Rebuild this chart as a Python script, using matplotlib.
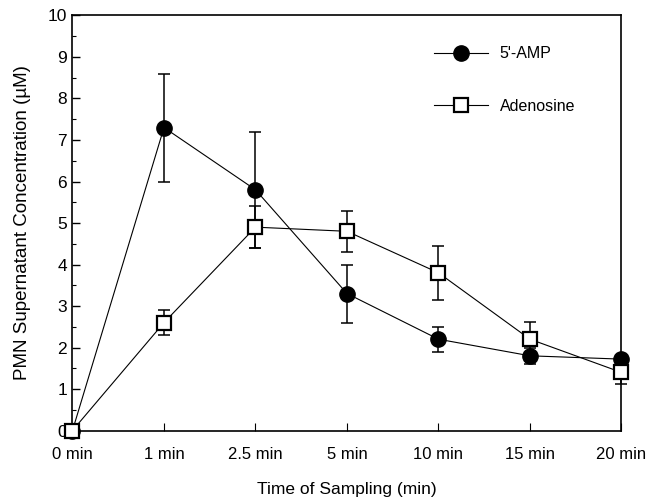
import matplotlib
matplotlib.use("Agg")
import matplotlib.pyplot as plt
from matplotlib.ticker import MultipleLocator

plt.rcParams['font.family'] = ['Liberation Sans', 'DejaVu Sans']

categories = ["0 min", "1 min", "2.5 min", "5 min", "10 min", "15 min", "20 min"]
amp = [0.0, 7.3, 5.8, 3.3, 2.2, 1.8, 1.72]
amp_err = [0.0, 1.3, 1.4, 0.7, 0.3, 0.2, 0.0]
ado = [0.0, 2.6, 4.9, 4.8, 3.8, 2.2, 1.4]
ado_err = [0.0, 0.3, 0.5, 0.5, 0.65, 0.42, 0.28]

x = list(range(len(categories)))

fig = plt.figure(figsize=(6.49, 5.03), dpi=100)
ax = fig.add_axes([0.1117, 0.1441, 0.8459, 0.8251])

ax.errorbar(x, amp, yerr=amp_err, fmt='none', ecolor='black', elinewidth=1.1,
            capsize=4, capthick=1.1, zorder=2, clip_on=False)
ax.errorbar(x, ado, yerr=ado_err, fmt='none', ecolor='black', elinewidth=1.1,
            capsize=4, capthick=1.1, zorder=2, clip_on=False)
ax.plot(x, amp, '-', color='black', lw=0.8, marker='o', markersize=11,
        markerfacecolor='black', markeredgecolor='black', label="5'-AMP",
        zorder=3, clip_on=False)
ax.plot(x, ado, '-', color='black', lw=0.8, marker='s', markersize=10,
        markerfacecolor='white', markeredgecolor='black', markeredgewidth=1.6,
        label='Adenosine', zorder=4, clip_on=False)

ax.set_xlim(0, 6)
ax.set_ylim(0, 10)
ax.set_xticks(x)
ax.set_xticklabels(categories, fontsize=12)
ax.yaxis.set_major_locator(MultipleLocator(1))
ax.yaxis.set_minor_locator(MultipleLocator(0.5))
ax.tick_params(axis='y', which='major', direction='in', length=6, width=1, labelsize=12.5, pad=4)
ax.tick_params(axis='y', which='minor', direction='in', length=3, width=0.8)
ax.tick_params(axis='x', which='major', direction='in', length=6, width=0.8, labelsize=12, pad=12)
for s in ax.spines.values():
    s.set_linewidth(1.2)

ax.set_xlabel('Time of Sampling (min)', fontsize=12.5, labelpad=14)
ax.set_ylabel('PMN Supernatant Concentration (\u00b5M)', fontsize=13.5, labelpad=12)

ax.legend(loc='upper right', bbox_to_anchor=(0.927, 0.941), frameon=False,
          fontsize=11.5, handlelength=3.4, labelspacing=2.35, handletextpad=0.7,
          borderaxespad=0)

fig.savefig('out.png', dpi=100)
